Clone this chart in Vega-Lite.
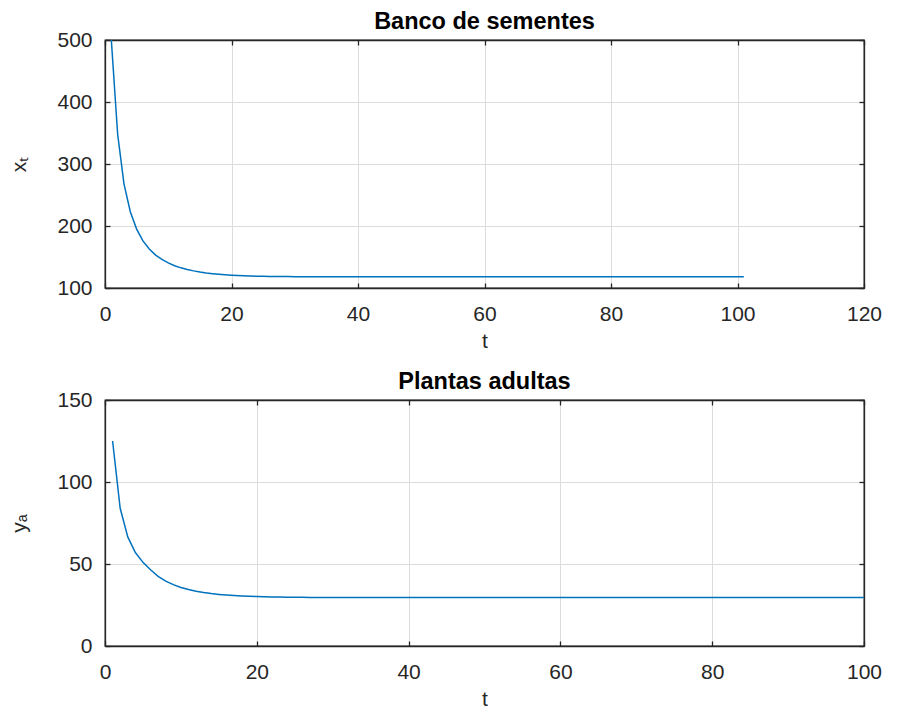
{
  "$schema": "https://vega.github.io/schema/vega-lite/v6.json",
  "padding": {"left": 8, "top": 8, "right": 10, "bottom": 5},
  "spacing": 16,
  "datasets": {
    "d": [
      {"t":1,"x":500,"y":125},{"t":2,"x":348,"y":84},{"t":3,"x":268,"y":66.5},{"t":4,"x":223,"y":57},{"t":5,"x":195,"y":51},
      {"t":6,"x":176,"y":46.5},{"t":7,"x":163,"y":42.5},{"t":8,"x":153,"y":39.6},{"t":9,"x":146,"y":37.4},{"t":10,"x":140.5,"y":35.7},
      {"t":11,"x":136,"y":34.4},{"t":12,"x":132.5,"y":33.4},{"t":13,"x":129.8,"y":32.6},{"t":14,"x":127.6,"y":31.95},{"t":15,"x":125.8,"y":31.45},
      {"t":16,"x":124.3,"y":31.05},{"t":17,"x":123.1,"y":30.75},{"t":18,"x":122.1,"y":30.5},{"t":19,"x":121.3,"y":30.3},{"t":20,"x":120.7,"y":30.12},
      {"t":21,"x":120.2,"y":30},{"t":22,"x":119.8,"y":29.9},{"t":23,"x":119.4,"y":29.82},{"t":24,"x":119.1,"y":29.75},{"t":25,"x":118.9,"y":29.7},
      {"t":26,"x":118.7,"y":29.66},{"t":27,"x":118.55,"y":29.62},{"t":28,"x":118.45,"y":29.59},{"t":29,"x":118.35,"y":29.57},{"t":30,"x":118.28,"y":29.56},
      {"t":31,"x":118.22,"y":29.55},{"t":32,"x":118.18,"y":29.54},{"t":33,"x":118.14,"y":29.53},{"t":34,"x":118.11,"y":29.52},{"t":35,"x":118.09,"y":29.52},
      {"t":36,"x":118.07,"y":29.51},{"t":37,"x":118.05,"y":29.51},{"t":38,"x":118.04,"y":29.51},{"t":39,"x":118.03,"y":29.5},{"t":40,"x":118.02,"y":29.5},
      {"t":41,"x":118.02,"y":29.5},{"t":42,"x":118.01,"y":29.5},{"t":43,"x":118.01,"y":29.5},{"t":44,"x":118.01,"y":29.5},{"t":45,"x":118,"y":29.5},
      {"t":46,"x":118,"y":29.5},{"t":47,"x":118,"y":29.5},{"t":48,"x":118,"y":29.5},{"t":49,"x":118,"y":29.5},{"t":50,"x":118,"y":29.5},
      {"t":51,"x":118,"y":29.5},{"t":52,"x":118,"y":29.5},{"t":53,"x":118,"y":29.5},{"t":54,"x":118,"y":29.5},{"t":55,"x":118,"y":29.5},
      {"t":56,"x":118,"y":29.5},{"t":57,"x":118,"y":29.5},{"t":58,"x":118,"y":29.5},{"t":59,"x":118,"y":29.5},{"t":60,"x":118,"y":29.5},
      {"t":61,"x":118,"y":29.5},{"t":62,"x":118,"y":29.5},{"t":63,"x":118,"y":29.5},{"t":64,"x":118,"y":29.5},{"t":65,"x":118,"y":29.5},
      {"t":66,"x":118,"y":29.5},{"t":67,"x":118,"y":29.5},{"t":68,"x":118,"y":29.5},{"t":69,"x":118,"y":29.5},{"t":70,"x":118,"y":29.5},
      {"t":71,"x":118,"y":29.5},{"t":72,"x":118,"y":29.5},{"t":73,"x":118,"y":29.5},{"t":74,"x":118,"y":29.5},{"t":75,"x":118,"y":29.5},
      {"t":76,"x":118,"y":29.5},{"t":77,"x":118,"y":29.5},{"t":78,"x":118,"y":29.5},{"t":79,"x":118,"y":29.5},{"t":80,"x":118,"y":29.5},
      {"t":81,"x":118,"y":29.5},{"t":82,"x":118,"y":29.5},{"t":83,"x":118,"y":29.5},{"t":84,"x":118,"y":29.5},{"t":85,"x":118,"y":29.5},
      {"t":86,"x":118,"y":29.5},{"t":87,"x":118,"y":29.5},{"t":88,"x":118,"y":29.5},{"t":89,"x":118,"y":29.5},{"t":90,"x":118,"y":29.5},
      {"t":91,"x":118,"y":29.5},{"t":92,"x":118,"y":29.5},{"t":93,"x":118,"y":29.5},{"t":94,"x":118,"y":29.5},{"t":95,"x":118,"y":29.5},
      {"t":96,"x":118,"y":29.5},{"t":97,"x":118,"y":29.5},{"t":98,"x":118,"y":29.5},{"t":99,"x":118,"y":29.5},{"t":100,"x":118,"y":29.5},
      {"t":101,"x":118,"y":29.5}
    ]
  },
  "vconcat": [
    {
      "width": 759,
      "height": 248,
      "title": {"text": "Banco de sementes"},
      "data": {"name": "d"},
      "resolve": {"axis": {"x": "independent", "y": "independent"}},
      "layer": [
        {
          "mark": {"type": "line", "color": "#0072BD", "strokeWidth": 1.5, "clip": true},
          "encoding": {
            "x": {"field": "t", "type": "quantitative", "scale": {"domain": [0, 120], "nice": false},
                  "axis": {"values": [0, 20, 40, 60, 80, 100, 120], "title": "t"}},
            "y": {"field": "x", "type": "quantitative", "scale": {"domain": [100, 500], "nice": false, "zero": false},
                  "axis": {"values": [100, 200, 300, 400, 500], "title": "xₜ"}}
          }
        },
        {
          "mark": {"type": "line", "strokeOpacity": 0, "clip": true},
          "encoding": {
            "x": {"field": "t", "type": "quantitative",
                  "axis": {"orient": "top", "values": [0, 20, 40, 60, 80, 100, 120], "title": null, "labels": false, "grid": false}},
            "y": {"field": "x", "type": "quantitative",
                  "axis": {"orient": "right", "values": [100, 200, 300, 400, 500], "title": null, "labels": false, "grid": false}}
          }
        }
      ]
    },
    {
      "width": 759,
      "height": 246,
      "title": {"text": "Plantas adultas"},
      "data": {"name": "d"},
      "resolve": {"axis": {"x": "independent", "y": "independent"}},
      "layer": [
        {
          "mark": {"type": "line", "color": "#0072BD", "strokeWidth": 1.5, "clip": true},
          "encoding": {
            "x": {"field": "t", "type": "quantitative", "scale": {"domain": [0, 100], "nice": false},
                  "axis": {"values": [0, 20, 40, 60, 80, 100], "title": "t"}},
            "y": {"field": "y", "type": "quantitative", "scale": {"domain": [0, 150], "nice": false},
                  "axis": {"values": [0, 50, 100, 150], "title": "yₐ"}}
          }
        },
        {
          "mark": {"type": "line", "strokeOpacity": 0, "clip": true},
          "encoding": {
            "x": {"field": "t", "type": "quantitative",
                  "axis": {"orient": "top", "values": [0, 20, 40, 60, 80, 100], "title": null, "labels": false, "grid": false}},
            "y": {"field": "y", "type": "quantitative",
                  "axis": {"orient": "right", "values": [0, 50, 100, 150], "title": null, "labels": false, "grid": false}}
          }
        }
      ]
    }
  ],
  "config": {
    "font": "Liberation Sans",
    "view": {"stroke": "#262626", "strokeWidth": 1.3},
    "title": {"font": "Liberation Sans", "fontSize": 23.5, "fontWeight": "bold", "color": "#000000", "offset": -4},
    "axis": {
      "labelFont": "Liberation Sans",
      "labelFontSize": 21,
      "labelColor": "#262626",
      "labelFlush": false,
      "labelOverlap": false,
      "titleFont": "Liberation Sans",
      "titleFontSize": 21,
      "titleFontWeight": "normal",
      "titleColor": "#262626",
      "domainColor": "#262626",
      "domainWidth": 1.3,
      "tickColor": "#262626",
      "tickSize": -5,
      "tickWidth": 1.3,
      "gridColor": "#dcdcdc",
      "gridWidth": 1
    },
    "axisX": {"labelPadding": 20, "titlePadding": 6},
    "axisY": {"labelPadding": 18, "titlePadding": 27}
  }
}
